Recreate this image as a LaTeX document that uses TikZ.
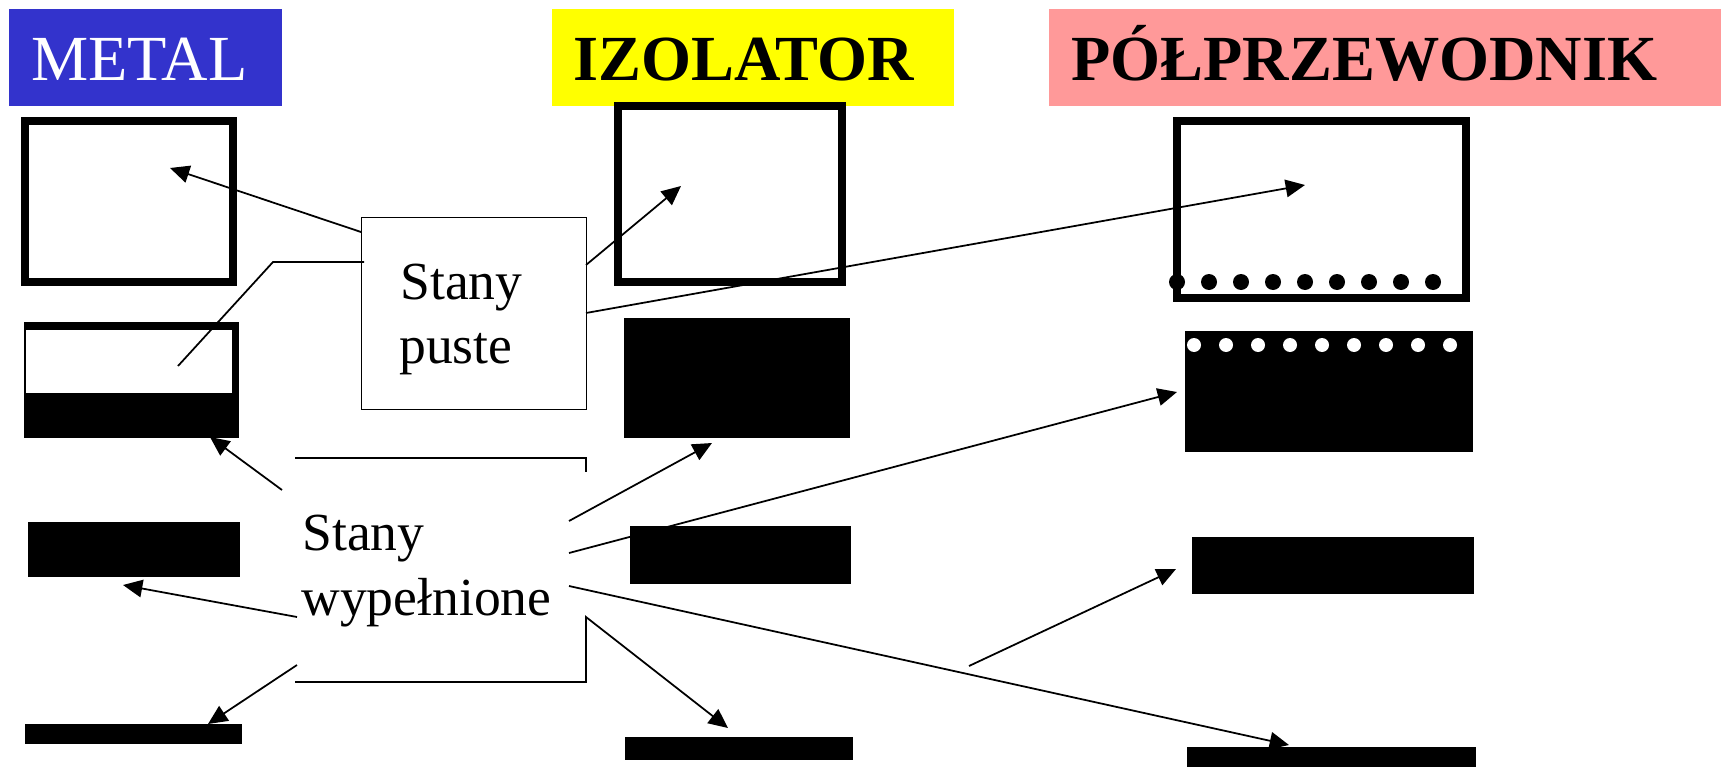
\documentclass[tikz,border=0pt]{standalone}
\usepackage{fontspec}
\setmainfont{Liberation Serif}
\usetikzlibrary{arrows.meta}
\definecolor{metalblue}{RGB}{51,51,204}
\definecolor{izoyellow}{RGB}{255,255,0}
\definecolor{pppink}{RGB}{255,153,153}
\begin{document}
\begin{tikzpicture}[x=0.02cm,y=-0.02cm,
  hdr/.style={draw=none,inner sep=0pt,outer sep=0pt,anchor=north west},
  hdrtxt/.style={anchor=base west,inner sep=0pt,font=\fontsize{36.6pt}{40pt}\selectfont},
  lbl/.style={anchor=base west,inner sep=0pt,font=\fontsize{30.5pt}{36pt}\selectfont},
  band/.style={fill=black,draw=none,inner sep=0pt,outer sep=0pt,anchor=north west},
  gapbox/.style={draw=black,fill=white,line width=4.55pt,inner sep=0pt,outer sep=0pt,anchor=north west},
  thin/.style={line width=1pt},
  arr/.style={line width=1pt,-{Triangle[length=11pt,width=10pt]}}]
\useasboundingbox (0,0) rectangle (1721,767);
\fill[white] (0,0) rectangle (1721,767);

% headers
\node[hdr,fill=metalblue,minimum width=273*0.02cm,minimum height=97*0.02cm] (metal) at (9,9) {};
\node[hdrtxt,text=white] (metaltxt) at (31,81) {METAL};
\node[hdr,fill=izoyellow,minimum width=402*0.02cm,minimum height=97*0.02cm] (izo) at (552,9) {};
\node[hdrtxt,font=\fontsize{36.6pt}{40pt}\selectfont\bfseries] (izotxt) at (573,81) {IZOLATOR};
\node[hdr,fill=pppink,minimum width=672*0.02cm,minimum height=97*0.02cm] (pp) at (1049,9) {};
\node[hdrtxt,font=\fontsize{36.6pt}{40pt}\selectfont\bfseries] (pptxt) at (1071,81) {PÓŁPRZEWODNIK};

% METAL bands
\node[gapbox,minimum width=208*0.02cm,minimum height=161*0.02cm] (m1) at (25,121) {};
\node[band,minimum width=215*0.02cm,minimum height=116*0.02cm] (m2) at (24,322) {};
\fill[white] (26,330) rectangle (232,393);
\node[band,minimum width=212*0.02cm,minimum height=55*0.02cm] (m3) at (28,522) {};
\node[band,minimum width=217*0.02cm,minimum height=20*0.02cm] (m4) at (25,724) {};

% IZOLATOR bands
\node[gapbox,minimum width=224*0.02cm,minimum height=176*0.02cm] (i1) at (618,106) {};
\node[band,minimum width=226*0.02cm,minimum height=120*0.02cm] (i2) at (624,318) {};
\node[band,minimum width=221*0.02cm,minimum height=58*0.02cm] (i3) at (630,526) {};
\node[band,minimum width=228*0.02cm,minimum height=23*0.02cm] (i4) at (625,737) {};

% PÓŁPRZEWODNIK bands
\node[gapbox,minimum width=289*0.02cm,minimum height=177*0.02cm] (s1) at (1177,121) {};
\foreach \i in {0,...,8} \fill ({1177+32*\i},282) circle[radius=0.16cm];
\node[band,minimum width=288*0.02cm,minimum height=121*0.02cm] (s2) at (1185,331) {};
\foreach \i in {0,...,8} \fill[white] ({1194+32*\i},345) circle[radius=0.14cm];
\node[band,minimum width=282*0.02cm,minimum height=57*0.02cm] (s3) at (1192,537) {};
\node[band,minimum width=289*0.02cm,minimum height=25*0.02cm] (s4) at (1187,747) {};

% Stany puste box
\node[draw=black,line width=0.75pt,fill=white,inner sep=0pt,anchor=north west,
      minimum width=225*0.02cm,minimum height=192*0.02cm] (puste) at (361,217) {};
\node[lbl] (pt1) at (400,299) {Stany};
\node[lbl] (pt2) at (399,363) {puste};

% Stany wypelnione
\node[lbl] (wt1) at (302,550) {Stany};
\node[lbl] (wt2) at (301,615) {wypełnione};

% coordinates
\coordinate (p1s) at (361,232); \coordinate (p1e) at (170,168);
\coordinate (p2s) at (364,262); \coordinate (p2m) at (273,262); \coordinate (p2e) at (178,366);
\coordinate (p3s) at (586,265); \coordinate (p3e) at (681,186);
\coordinate (p4s) at (586,313); \coordinate (p4e) at (1305,185);

\coordinate (w1s) at (282,490); \coordinate (w1e) at (210,437);
\coordinate (w2s) at (297,617); \coordinate (w2e) at (123,585);
\coordinate (w3s) at (297,665); \coordinate (w3e) at (208,724);
\coordinate (w4s) at (569,521); \coordinate (w4e) at (712,443);
\coordinate (w5s) at (569,553); \coordinate (w5e) at (1177,392);
\coordinate (w6s) at (569,586); \coordinate (w6e) at (1289,745);
\coordinate (b1) at (295,682); \coordinate (b2) at (586,682); \coordinate (b3) at (586,617);
\coordinate (w7e) at (728,728);
\coordinate (t1) at (295,458); \coordinate (t2) at (586,458); \coordinate (t3) at (586,472);
\coordinate (w8s) at (969,666); \coordinate (w8e) at (1176,569);

% connectors
\draw[arr] (p1s) -- (p1e);
\draw[thin] (p2s) -- (p2m) -- (p2e);
\draw[arr] (p3s) -- (p3e);
\draw[arr] (p4s) -- (p4e);

\draw[arr] (w1s) -- (w1e);
\draw[arr] (w2s) -- (w2e);
\draw[arr] (w3s) -- (w3e);
\draw[arr] (w4s) -- (w4e);
\draw[arr] (w5s) -- (w5e);
\draw[arr] (w6s) -- (w6e);
\draw[arr] (b1) -- (b2) -- (b3) -- (w7e);
\draw[thin] (t1) -- (t2) -- (t3);
\draw[arr] (w8s) -- (w8e);
\end{tikzpicture}
\end{document}
